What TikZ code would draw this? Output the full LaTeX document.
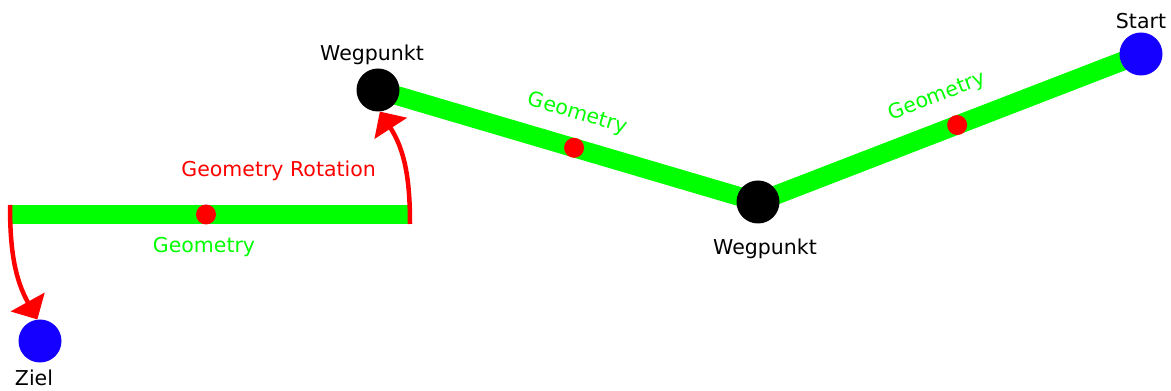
\documentclass[tikz,border=0pt]{standalone}
\usepackage{fontspec}
\setmainfont{DejaVu Sans}
\usepackage{tikz}
\usetikzlibrary{arrows.meta,backgrounds}
\definecolor{rot}{HTML}{FF0000}
\definecolor{gruen}{HTML}{00FF00}
\definecolor{zielblau}{HTML}{1500FF}

\begin{document}
\begin{tikzpicture}[x=1pt,y=1pt,
      font=\fontsize{20.5}{24}\selectfont,
      punkt/.style={circle, fill=black, minimum size=43pt, inner sep=0pt},
      endpunkt/.style={punkt, fill=zielblau},
      bahn/.style={line width=19pt, draw=gruen},
      mitte/.style={circle, fill=rot, minimum size=20pt, inner sep=0pt},
      geo/.style={text=gruen},
      drehung/.style={-{Triangle[length=20pt,width=38pt]}, line width=4.5pt, draw=rot}
    ]
    \useasboundingbox (0,0) rectangle (1171,391);
    % Wegpunkte
    \node[endpunkt, label={above:Start}] (start) at (1141,337) {};
    \node[punkt, label={[label distance=12pt, xshift=7pt]below:Wegpunkt}] (wp2) at (758,189) {};
    \node[punkt, label={[xshift=-6pt]above:Wegpunkt}] (wp1) at (378,301) {};
    \node[endpunkt, label={[label distance=4pt, xshift=-6pt]below:Ziel}] (ziel) at (40,50) {};
    % gedrehte Geometrie
    \coordinate (geoL) at (10,176.5);
    \coordinate (geoR) at (410,176.5);
    \coordinate (rotL) at (10,186);
    \coordinate (rotR) at (410,167);
    \begin{pgfonlayer}{background}
      \draw[bahn] (wp2.center) -- node[mitte, pos=.52] {} node[geo, sloped, above=11pt] {Geometry} (start.center);
      \draw[bahn] (wp2.center) -- node[mitte, pos=.484] {} node[geo, sloped, above=11pt] {Geometry} (wp1.center);
    \end{pgfonlayer}
    \draw[bahn] (geoL) -- node[mitte, pos=.49] {} node[geo, below=10pt, pos=.485] {Geometry} (geoR);
    \draw[drehung] (rotR) to[out=90, in=-57] node[pos=.45, left=24pt, text=rot] {Geometry Rotation} (wp1.-85);
    \draw[drehung] (rotL) to[out=-90, in=119] (ziel.97);
  \end{tikzpicture}
\end{document}
